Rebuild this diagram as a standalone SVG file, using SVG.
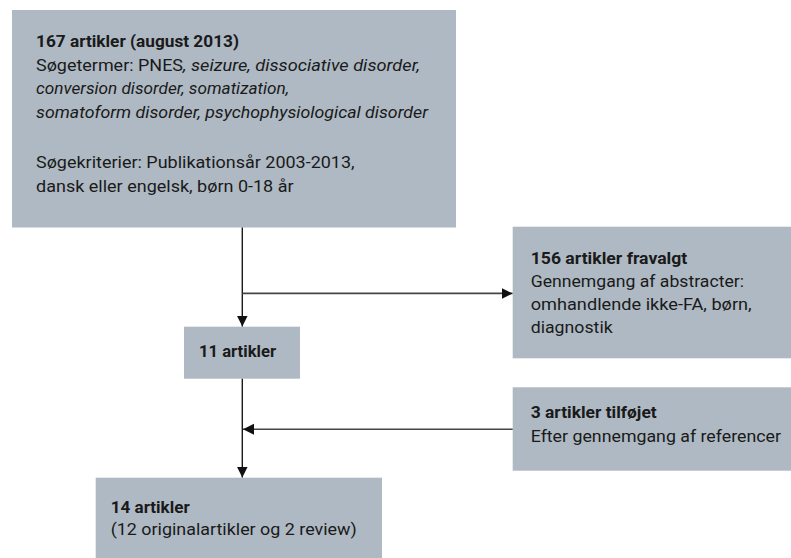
<svg xmlns="http://www.w3.org/2000/svg" width="791" height="558" viewBox="0 0 791 558">
<defs>
<style>
.box{fill:#aeb9c3}
text{font-family:Roboto,"Liberation Sans",sans-serif;font-size:17px;fill:#1a1a1a}
.b{font-weight:bold}
.i{font-style:italic}
.v{stroke:#1a1a1a;stroke-width:1.4;fill:none}
.h{stroke:#454545;stroke-width:1.6;fill:none}
</style>
<marker id="ah" markerUnits="userSpaceOnUse" markerWidth="12" markerHeight="12" refX="11" refY="5.5" orient="auto" viewBox="0 0 12 11">
<path d="M0,0 L11,5.5 L0,11 z" fill="#111"/>
</marker>
</defs>
<rect width="791" height="558" fill="#fff"/>
<g id="n1">
<rect class="box" x="12" y="10" width="444" height="217.5"/>
<text class="b" x="36" y="46.7" textLength="203" lengthAdjust="spacingAndGlyphs">167 artikler (august 2013)</text>
<text x="36" y="70.8" textLength="147" lengthAdjust="spacingAndGlyphs">Søgetermer: PNES</text>
<text class="i" x="183" y="70.8" textLength="237" lengthAdjust="spacingAndGlyphs">, seizure, dissociative disorder,</text>
<text class="i" x="36" y="94.4" textLength="253" lengthAdjust="spacingAndGlyphs">conversion disorder, somatization,</text>
<text class="i" x="36" y="118" textLength="392" lengthAdjust="spacingAndGlyphs">somatoform disorder, psychophysiological disorder</text>
<text x="36" y="168" textLength="318.6" lengthAdjust="spacingAndGlyphs">Søgekriterier: Publikationsår 2003-2013,</text>
<text x="36" y="192" textLength="257.6" lengthAdjust="spacingAndGlyphs">dansk eller engelsk, børn 0-18 år</text>
</g>
<g id="n2">
<rect class="box" x="512.7" y="226.7" width="278.3" height="131.6"/>
<text class="b" x="530.7" y="264" textLength="156.6" lengthAdjust="spacingAndGlyphs">156 artikler fravalgt</text>
<text x="530.7" y="287.3" textLength="213.3" lengthAdjust="spacingAndGlyphs">Gennemgang af abstracter:</text>
<text x="530.7" y="310.3" textLength="221" lengthAdjust="spacingAndGlyphs">omhandlende ikke-FA, børn,</text>
<text x="530.7" y="333.3" textLength="82" lengthAdjust="spacingAndGlyphs">diagnostik</text>
</g>
<g id="n3">
<rect class="box" x="184" y="326.7" width="116" height="52"/>
<text class="b" x="199" y="357.3" textLength="77" lengthAdjust="spacingAndGlyphs">11 artikler</text>
</g>
<g id="n4">
<rect class="box" x="512.7" y="387.3" width="278.3" height="83.4"/>
<text class="b" x="530.7" y="418" textLength="126" lengthAdjust="spacingAndGlyphs">3 artikler tilføjet</text>
<text x="530.7" y="441.7" textLength="250.3" lengthAdjust="spacingAndGlyphs">Efter gennemgang af referencer</text>
</g>
<g id="n5">
<rect class="box" x="95.7" y="477.7" width="286.3" height="80.3"/>
<text class="b" x="110.7" y="513.3" textLength="79" lengthAdjust="spacingAndGlyphs">14 artikler</text>
<text x="110.7" y="535" textLength="246" lengthAdjust="spacingAndGlyphs">(12 originalartikler og 2 review)</text>
</g>
<g id="connectors">
<path class="v" d="M242.3,227.5 V326.5" marker-end="url(#ah)"/>
<path class="h" d="M242.3,293.4 H512.5" marker-end="url(#ah)"/>
<path class="v" d="M242.3,378.7 V477.5" marker-end="url(#ah)"/>
<path class="h" d="M512.7,429.3 H243" marker-end="url(#ah)"/>
</g>
</svg>
